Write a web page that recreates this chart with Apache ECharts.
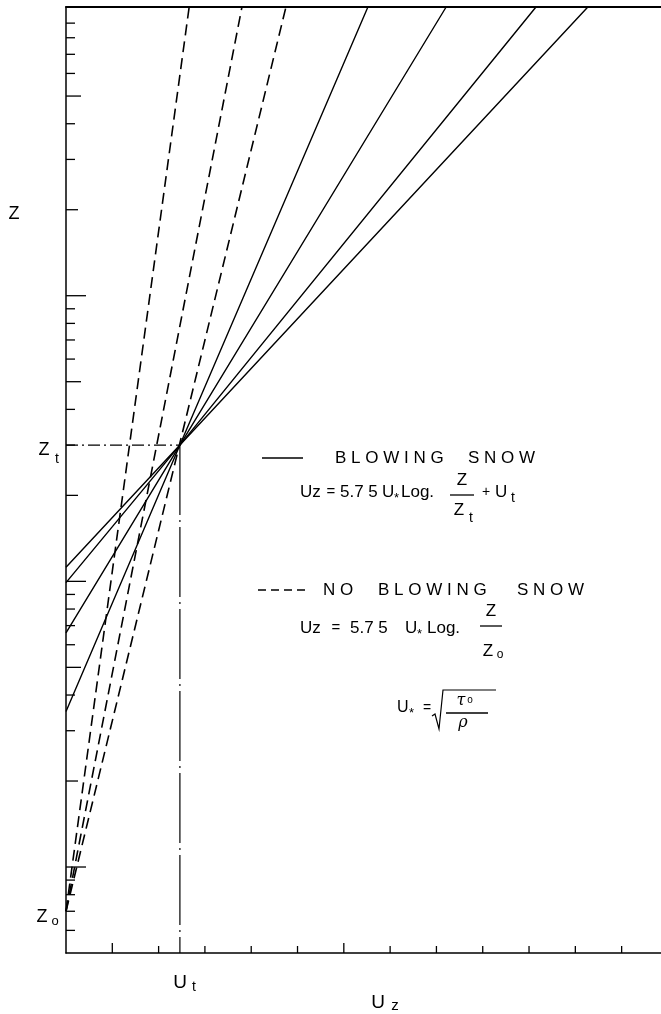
<!DOCTYPE html>
<html>
<head>
    <meta charset="utf-8">
    <title>Wind profile - blowing snow</title>
    <script src="https://cdn.jsdelivr.net/npm/echarts@6/dist/echarts.min.js"></script>
    <style>
        html, body { margin: 0; padding: 0; background: #fff; }
    </style>
</head>
<body>
    <div id="main" style="width: 661px;height:1014px;"></div>
    <script type="text/javascript">
        // values (no printed scale, arbitrary units)
        var uMax = 12.85;          // Uz axis end, ticks every 1
        var zMin = 0.005;          // bottom of log Z axis
        var zMax = 10.25;          // top of log Z axis
        var Ut = 2.46;
        var Zt = 0.3;
        var Zo = 0.007;
        // blowing snow: from left axis through (Ut,Zt) to the top
        var blowingBaseZ = [0.035, 0.066, 0.099, 0.112];
        var blowingTopU = [6.52, 8.21, 10.15, 11.27];
        // no blowing snow: from (0,Zo) to the top
        var noBlowingTopU = [2.66, 3.80, 4.75];
        var uTicks = [1, 2, 3, 4, 5, 6, 7, 8, 9, 10, 11, 12];
        var zTicks = [0.006, 0.007, 0.008, 0.009,
            0.01, 0.02, 0.03, 0.04, 0.05, 0.06, 0.07, 0.08, 0.09,
            0.1, 0.2, 0.3, 0.4, 0.5, 0.6, 0.7, 0.8, 0.9,
            1, 2, 3, 4, 5, 6, 7, 8, 9];

        var FONT = 'Liberation Sans, Arial, sans-serif';
        var black = '#000';

        var myChart = echarts.init(document.getElementById('main'));

        var series = [];
        blowingTopU.forEach(function (u, i) {
            series.push({
                type: 'line',
                data: [[0, blowingBaseZ[i]], [Ut, Zt], [u, zMax]],
                symbol: 'none',
                lineStyle: {color: black, width: 1.4}
            });
        });
        noBlowingTopU.forEach(function (u) {
            series.push({
                type: 'line',
                data: [[0, Zo], [u, zMax]],
                symbol: 'none',
                lineStyle: {color: black, width: 1.6, type: [11, 6]}
            });
        });
        // dash-dot guides to Zt and Ut
        series.push({
            type: 'line',
            data: [[0, Zt], [Ut, Zt]],
            symbol: 'none',
            lineStyle: {color: black, width: 1.2, type: [12, 4, 2, 4]}
        });
        series.push({
            type: 'line',
            data: [[Ut, Zt], [Ut, zMin]],
            symbol: 'none',
            lineStyle: {color: black, width: 1.2, type: [70, 5, 2, 5]}
        });
        // log ticks on the Z axis, pointing inward
        series.push({
            type: 'custom',
            data: zTicks.map(function (v) { return [0, v]; }),
            renderItem: function (params, api) {
                var v = api.value(1);
                var m = Math.round(v / Math.pow(10, Math.floor(Math.log10(v) + 1e-9)));
                var len = m === 1 ? 20 : (m === 5 ? 15 : (m === 2 ? 12 : 9));
                var p = api.coord([0, v]);
                return {
                    type: 'line',
                    shape: {x1: p[0], y1: p[1], x2: p[0] + len, y2: p[1]},
                    style: {stroke: black, lineWidth: 1.3}
                };
            }
        });
        // ticks on the Uz axis, pointing up (the middle one a bit taller)
        series.push({
            type: 'custom',
            data: uTicks.map(function (u) { return [u, zMin]; }),
            renderItem: function (params, api) {
                var u = api.value(0);
                var len = (u === 6 || u === 1) ? 10 : 7;
                var p = api.coord([u, zMin]);
                return {
                    type: 'line',
                    shape: {x1: p[0], y1: p[1], x2: p[0], y2: p[1] - len},
                    style: {stroke: black, lineWidth: 1.3}
                };
            }
        });

        function txt(s, x, y, size, align) {
            return {
                type: 'text', x: x, y: y,
                style: {
                    text: s, font: size + 'px ' + FONT, fill: black,
                    textAlign: align || 'left', textVerticalAlign: 'middle'
                }
            };
        }
        function seg(x1, y1, x2, y2, dash) {
            return {
                type: 'line',
                shape: {x1: x1, y1: y1, x2: x2, y2: y2},
                style: {stroke: black, lineWidth: 1.3, lineDash: dash || null}
            };
        }

        var graphic = [
            // axis labels
            txt('Z', 14, 214, 18, 'center'),
            txt('Z', 44, 450, 18, 'center'), txt('t', 57, 459, 14, 'center'),
            txt('Z', 42, 917, 18, 'center'), txt('o', 55, 921, 13, 'center'),
            txt('U', 180, 983, 19, 'center'), txt('t', 194, 987, 14, 'center'),
            txt('U', 378, 1003, 19, 'center'), txt('z', 395, 1006, 15, 'center'),

            // legend: blowing snow
            seg(262, 458, 303, 458),
            txt('B L O W I N G', 335, 458, 17),
            txt('S N O W', 468, 458, 17),
            txt('Uz', 300, 492, 17), txt('=', 331, 492, 15, 'center'),
            txt('5.7 5', 340, 492, 17), txt('U', 382, 492, 17),
            txt('*', 394, 498, 13), txt('Log.', 401, 492, 17),
            seg(450, 495, 474, 495),
            txt('Z', 462, 480, 17, 'center'),
            txt('Z', 459, 510, 17, 'center'), txt('t', 471, 518, 14, 'center'),
            txt('+', 486, 492, 14, 'center'), txt('U', 495, 492, 17),
            txt('t', 511, 498, 14),

            // legend: no blowing snow
            seg(258, 590, 305, 590, [8, 5]),
            txt('N O', 323, 590, 17),
            txt('B L O W I N G', 378, 590, 17),
            txt('S N O W', 517, 590, 17),
            txt('Uz', 300, 628, 17), txt('=', 336, 628, 15, 'center'),
            txt('5.7 5', 350, 628, 17), txt('U', 405, 628, 17),
            txt('*', 417, 634, 13), txt('Log.', 427, 628, 17),
            seg(480, 626, 502, 626),
            txt('Z', 491, 611, 17, 'center'),
            txt('Z', 488, 651, 17, 'center'), txt('o', 500, 655, 12, 'center'),

            // friction velocity
            txt('U', 397, 708, 16), txt('*', 409, 713, 13),
            txt('=', 427, 708, 14, 'center'),
            {
                type: 'polyline',
                shape: {points: [[432, 716], [435, 714], [439, 729], [443, 690], [496, 690]]},
                style: {stroke: black, lineWidth: 1.2, fill: 'none'}
            },
            {
                type: 'text', x: 461, y: 701,
                style: {text: 'τ', font: 'italic 16px DejaVu Serif, serif', fill: black,
                    textAlign: 'center', textVerticalAlign: 'middle'}
            },
            txt('o', 470, 700, 10, 'center'),
            seg(446, 713, 488, 713),
            {
                type: 'text', x: 463, y: 723,
                style: {text: 'ρ', font: 'italic 16px DejaVu Serif, serif', fill: black,
                    textAlign: 'center', textVerticalAlign: 'middle'}
            }
        ];

        var option = {
            animation: false,
            grid: {left: 66, right: 0, top: 7, bottom: 61},
            xAxis: [{
                type: 'value', min: 0, max: uMax, interval: 1,
                axisLine: {onZero: false, lineStyle: {color: black, width: 1.5}},
                axisTick: {show: false},
                axisLabel: {show: false},
                splitLine: {show: false}
            }, {
                type: 'value', position: 'top', min: 0, max: uMax,
                axisLine: {show: true, onZero: false, lineStyle: {color: black, width: 2}},
                axisTick: {show: false},
                axisLabel: {show: false},
                splitLine: {show: false}
            }],
            yAxis: {
                type: 'log', logBase: 10, min: zMin, max: zMax,
                axisLine: {show: true, onZero: false, lineStyle: {color: black, width: 1.5}},
                axisTick: {show: false},
                axisLabel: {show: false},
                splitLine: {show: false}
            },
            graphic: graphic,
            series: series
        };
        myChart.setOption(option);
    </script>
</body>
</html>
